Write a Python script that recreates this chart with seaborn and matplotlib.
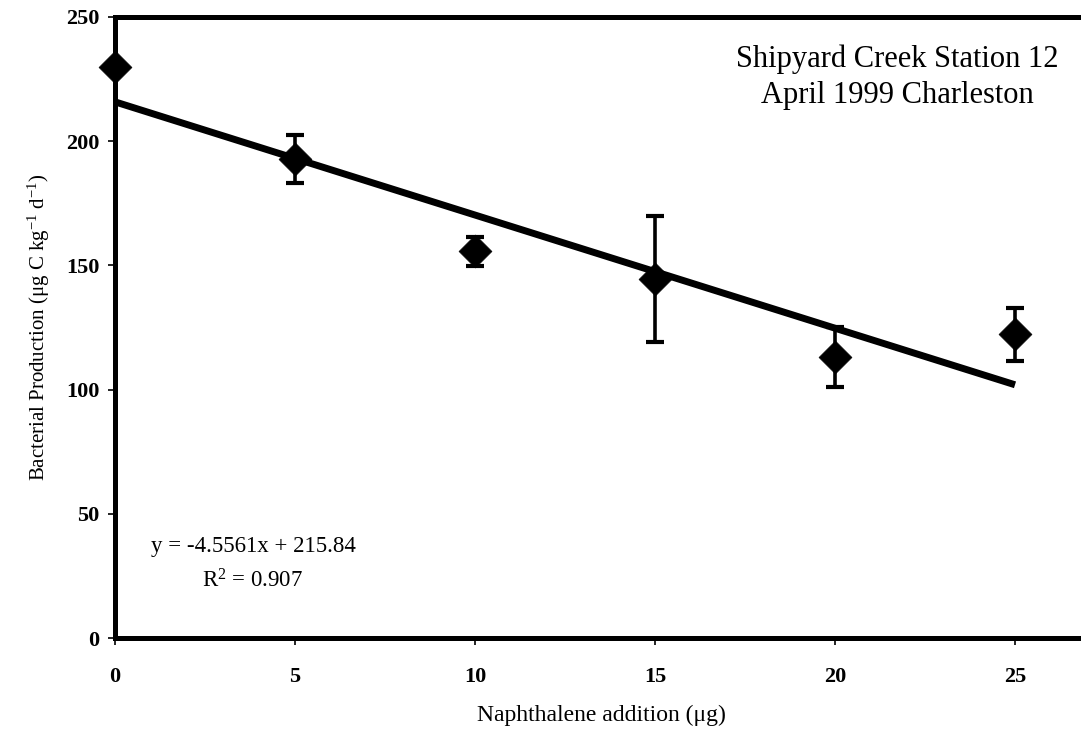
import numpy as np
import pandas as pd
import matplotlib
matplotlib.use("Agg")
import matplotlib.pyplot as plt
import seaborn as sns

# Naphthalene additions and measured bacterial production
naphthalene = [0, 5, 10, 15, 20, 25]
production = [229.8, 192.7, 155.6, 144.5, 113.3, 122.2]
production_err = [1.0, 9.7, 6.0, 25.4, 12.1, 10.5]

# Linear fit reported on the chart
slope = -4.5561
intercept = 215.84
r_squared = 0.907

x_ticks = [0, 5, 10, 15, 20, 25]
y_ticks = [0, 50, 100, 150, 200, 250]

sns.set_theme(style="ticks")
plt.rcParams["font.family"] = ["Liberation Serif", "DejaVu Serif"]
plt.rcParams["mathtext.fontset"] = "custom"
plt.rcParams["mathtext.rm"] = "Liberation Serif"
plt.rcParams["mathtext.it"] = "Liberation Serif:italic"

df = pd.DataFrame({"x": naphthalene, "y": production, "err": production_err})
fit_x = np.array([naphthalene[0], naphthalene[-1]], dtype=float)
fit = pd.DataFrame({"x": fit_x, "y": slope * fit_x + intercept})

fig = plt.figure(figsize=(10.81, 7.29), dpi=100)
ax = fig.add_axes([115 / 1081, 91 / 729, 972 / 1081, 621 / 729])

ax.errorbar(df["x"], df["y"], yerr=df["err"], fmt="none", ecolor="black",
            elinewidth=2.6, capsize=6.5, capthick=3, zorder=2, clip_on=False)
sns.scatterplot(data=df, x="x", y="y", marker="D", s=280, color="black",
                edgecolor="black", linewidth=0.5, ax=ax, zorder=3, clip_on=False)
sns.lineplot(data=fit, x="x", y="y", color="black", linewidth=5, ax=ax,
             zorder=4, solid_capstyle="butt")

ax.set_xlim(0, 27)
ax.set_ylim(0, 250)
ax.set_xticks(x_ticks)
ax.set_yticks(y_ticks)
ax.set_xticklabels([str(v) for v in x_ticks], fontsize=16, fontweight="bold")
ax.set_yticklabels([str(v) for v in y_ticks], fontsize=16, fontweight="bold")
ax.tick_params(axis="x", direction="out", length=5, width=1.2, pad=16, colors="black")
ax.tick_params(axis="y", direction="out", length=5, width=1.2, pad=6, colors="black")

for side in ["left", "bottom", "top", "right"]:
    ax.spines[side].set_linewidth(3.6)
    ax.spines[side].set_color("black")

ax.set_xlabel("Naphthalene addition (μg)", fontsize=17, labelpad=13, color="black")
ax.set_ylabel("Bacterial Production (μg C kg$^{-1}$ d$^{-1}$)", fontsize=15,
              labelpad=10, color="black")

# Site annotation, upper right
ax.text(0.8045, 0.9195, "Shipyard Creek Station 12", transform=ax.transAxes,
        ha="center", va="baseline", fontsize=22, color="black")
ax.text(0.8045, 0.8615, "April 1999 Charleston", transform=ax.transAxes,
        ha="center", va="baseline", fontsize=22, color="black")

# Regression equation, lower left
ax.text(0.142, 0.1385, f"y = {slope}x + {intercept}", transform=ax.transAxes,
        ha="center", va="baseline", fontsize=16.5, color="black")
ax.text(0.142, 0.0821, f"R$^2$ = {r_squared}", transform=ax.transAxes,
        ha="center", va="baseline", fontsize=16.5, color="black")

fig.savefig("out.png", dpi=100, facecolor="white")
